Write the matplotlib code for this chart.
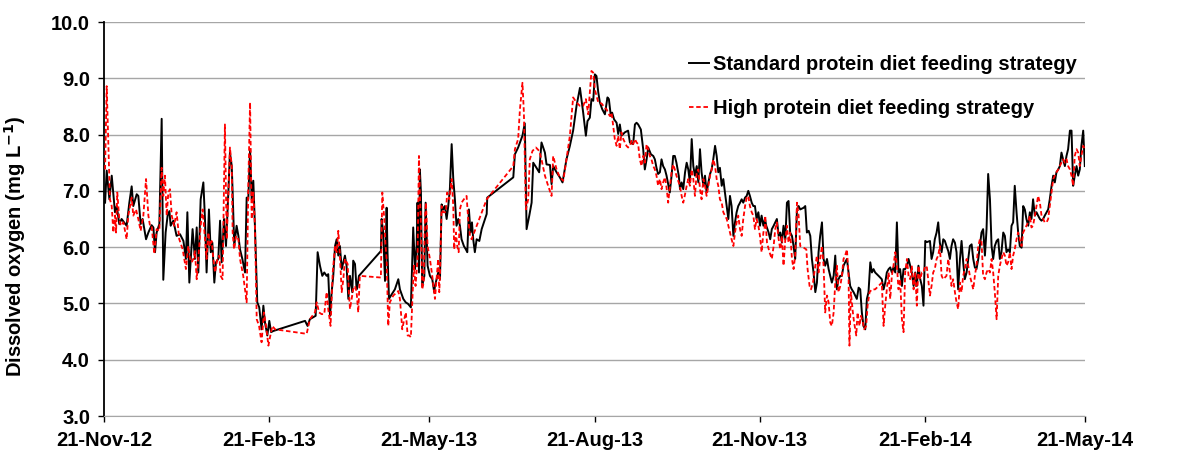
import datetime as dt
import matplotlib
matplotlib.use("Agg")
import matplotlib.pyplot as plt

start = dt.datetime(2012, 11, 21)

# days since 21-Nov-2012, dissolved oxygen (mg/L)
std_days = [0.6, 1.5, 3.0, 4.3, 6.1, 7.1, 8.5, 9.8, 12.6, 14.1, 15.4, 16.3, 18.2, 19.1, 20.4, 21.5, 23.4, 24.7,
            26.5, 27.5, 28.4, 29.3, 30.8, 32.1, 33.0, 34.3, 35.4, 36.4, 37.1, 38.6, 40.4, 42.3,
            44.2, 45.6, 46.4, 47.5, 49.3, 50.6, 51.6, 52.5, 53.8, 55.3, 56.2, 57.1, 58.4, 59.4, 60.3, 61.4, 62.3,
            63.6, 64.6, 65.5, 66.8, 67.9, 69.2, 70.1, 71.1, 71.6, 72.5, 73.8, 74.8, 75.7, 77.0, 78.5, 79.4, 80.3,
            81.3, 82.2, 83.1, 84.0, 85.3, 86.4, 87.7, 88.7, 89.6, 90.9, 92.0,
            93.0, 94.2, 111.9, 113.3, 114.6, 117.8, 118.9, 120.2, 121.5, 122.6, 123.9, 124.8, 125.8, 126.7, 127.6,
            128.6, 129.5, 130.4, 131.3, 132.3, 133.2, 134.1, 135.0, 136.0,
            136.9, 138.2, 138.7, 139.7, 140.6, 141.1, 141.9, 154.1, 154.5, 155.4, 156.4, 157.3, 157.8, 158.6, 159.7,
            161.9, 163.8, 164.7, 166.6, 167.9, 169.3, 170.8, 172.1, 173.1, 174.0, 174.5, 175.3, 175.8, 176.4, 177.1,
            178.3, 179.0, 180.1, 181.4, 182.7, 183.8,
            184.2, 185.1, 186.0, 187.0, 187.9, 188.8, 189.7, 190.7, 191.6, 192.5, 193.5, 194.4, 195.3, 196.2, 197.2,
            198.1, 199.0, 200.3, 201.4, 202.2, 203.1, 204.0, 204.8, 205.5, 206.4, 207.4, 208.9, 210.2, 213.0, 213.3,
            227.8, 228.7,
            230.5, 232.9, 234.2, 235.2, 236.7, 238.0, 238.9, 240.7, 242.2, 243.5, 245.4, 246.3, 248.2, 249.1, 250.0,
            251.9, 253.7, 255.2, 257.4, 259.3, 261.1, 263.0, 264.9, 266.7, 268.2, 269.1, 270.4, 271.3, 272.3, 273.2,
            274.1, 275.1,
            276.0, 277.3, 278.8, 280.2, 281.0, 282.1, 282.8, 283.9, 285.3, 286.2, 287.1, 288.0, 289.0, 289.9, 291.7,
            292.7, 294.5, 295.5, 296.4, 297.3, 298.8, 300.1, 301.0, 302.0, 302.9, 304.4, 305.7, 306.6, 307.5, 308.4,
            309.4, 310.3, 311.2, 312.2, 313.1, 314.0, 314.9, 315.9, 316.8, 317.7, 318.6, 319.9,
            320.6, 321.5, 322.4, 323.4, 324.3, 325.2, 326.1, 327.1, 328.0, 328.9, 329.9, 330.8, 331.7, 332.6, 333.6,
            334.5, 335.4, 336.4, 337.3, 338.2, 339.1, 340.1, 341.0, 341.9, 342.8, 343.8, 344.7, 345.6, 346.6, 347.5,
            348.4, 349.3, 350.3, 351.2, 352.1, 353.0, 354.0, 354.9, 355.8, 356.8, 357.7, 358.6, 359.5, 360.5, 361.4,
            362.3, 363.2, 364.2, 365.1, 366.0, 367.0, 367.9,
            368.6, 369.9, 370.8, 371.7, 372.7, 373.6, 374.5, 375.5, 376.4, 377.3, 378.2, 379.2, 380.1, 381.0, 381.9,
            382.9, 383.8, 384.7, 385.7, 386.6, 387.5, 389.4, 390.3, 391.2, 392.2, 393.1, 394.0, 394.9, 395.9, 396.8,
            397.7, 398.6, 399.6, 400.5, 401.4, 402.4, 403.3, 404.2, 405.1, 406.1, 407.0, 407.9, 408.8, 409.8,
            410.7, 411.6, 412.5, 413.5, 414.4, 415.3, 416.2, 417.2, 418.1, 419.0, 420.0, 420.9, 421.8, 422.7, 423.7,
            424.6, 425.5, 426.5, 427.4, 428.3, 429.2, 431.1, 432.9, 433.9, 434.8, 435.7, 436.7, 437.6, 438.5, 439.4,
            440.4, 441.3, 442.2, 443.1, 444.1, 445.0, 445.9, 446.9, 447.8, 448.7, 449.6, 450.6, 451.5, 452.4, 453.3,
            454.3, 455.2, 456.1, 457.1, 458.0,
            459.7, 460.6, 461.5, 462.4, 463.4, 464.3, 465.2, 466.2, 467.1, 468.0, 468.9, 469.9, 470.8, 471.7, 472.6,
            473.6, 474.5, 475.4, 476.4, 477.3, 478.2, 479.1, 480.1, 481.0, 481.9, 482.9, 483.8, 484.7, 485.6, 486.6,
            487.5, 488.4, 489.3, 490.3, 491.2, 492.1, 493.1, 494.0, 494.9, 495.8, 496.8, 497.7, 498.6, 499.5, 500.5,
            501.4,
            502.3, 503.2, 504.2, 505.1, 506.0, 506.9, 507.9, 508.8, 509.7, 510.7, 511.6, 512.5, 513.4, 514.4, 515.3,
            516.2, 517.1, 518.1, 519.0, 519.9, 520.9, 521.8, 522.7, 523.6, 524.6, 525.5, 526.4, 527.4, 528.3, 529.2,
            530.1, 531.1, 532.0, 532.9, 533.8, 534.8, 535.7, 536.6, 537.6, 538.5, 539.4, 540.3, 541.3, 542.2, 543.1,
            544.0, 545.0, 545.9]
std_vals = [6.79, 7.36, 6.85, 7.27, 6.62, 6.73, 6.41, 6.50, 6.38, 6.79, 7.08, 6.73, 6.94, 6.91, 6.41, 6.50, 6.14, 6.26,
            6.39, 6.35, 5.91, 6.26, 6.41, 8.28, 5.42, 6.26, 6.56, 6.64, 6.38, 6.47, 6.20, 6.23,
            6.11, 5.79, 6.62, 5.37, 6.32, 5.79, 6.35, 5.55, 6.85, 7.15, 6.50, 5.55, 6.67, 5.91, 6.08, 5.37, 5.73,
            5.79, 6.47, 5.73, 6.50, 6.02, 6.97, 7.68, 7.44, 6.97, 6.02, 6.38, 6.20, 5.96, 5.79, 5.55, 6.88, 6.85,
            7.74, 6.85, 7.18, 6.38, 5.02, 4.93, 4.54, 4.96, 4.66, 4.43, 4.69,
            4.49, 4.51, 4.69, 4.60, 4.72, 4.78, 5.91, 5.67, 5.49, 5.55, 5.49, 5.52, 4.78, 5.20, 5.49,
            6.02, 6.14, 5.85, 6.02, 5.61, 5.73, 5.85, 5.67, 5.08,
            5.49, 5.20, 5.76, 5.70, 5.25, 5.31, 5.49, 5.93, 6.50, 6.26, 5.40, 6.70, 5.91, 5.08, 5.14,
            5.25, 5.43, 5.25, 5.08, 5.02, 4.99, 4.93, 6.35, 5.61, 6.02, 6.79, 5.55, 7.38, 6.97, 5.31,
            5.49, 6.79, 5.67, 5.49, 5.43, 5.20,
            5.31, 5.43, 5.55, 5.43, 6.76, 6.67, 6.73, 6.50, 6.73, 7.03, 7.83, 7.21, 6.85, 6.38, 6.50,
            6.38, 6.14, 6.02, 5.96, 5.91, 6.67, 6.26, 6.44, 6.14, 5.91, 6.14, 6.11, 6.32, 6.59, 6.88,
            7.24, 7.65,
            7.77, 7.98, 8.20, 6.32, 6.56, 6.79, 7.50, 7.41, 7.33, 7.86, 7.68, 7.47, 7.46, 7.12, 7.44,
            7.33, 7.24, 7.15, 7.56, 7.80, 8.07, 8.51, 8.83, 8.39, 7.98, 8.24, 8.30, 8.63, 8.60, 9.07,
            9.04, 8.75,
            8.57, 8.45, 8.36, 8.66, 8.63, 8.33, 8.39, 8.27, 8.21, 8.01, 8.18, 7.98, 8.01, 8.04, 8.07,
            7.86, 7.83, 8.18, 8.21, 8.18, 8.09, 7.74, 7.38, 7.56, 7.77, 7.65, 7.62, 7.56, 7.41, 7.30,
            7.33, 7.56, 7.44, 7.38, 7.27, 7.12, 6.97, 7.27, 7.62, 7.62, 7.50, 7.27,
            7.03, 7.15, 7.03, 7.33, 7.50, 7.38, 7.15, 7.92, 7.44, 7.27, 7.44, 7.15, 7.74, 7.33, 7.09,
            7.27, 6.97, 7.15, 7.30, 7.38, 7.56, 7.80, 7.62, 7.33, 7.41, 7.09, 7.21, 6.97, 6.73, 6.50,
            6.91, 6.73, 6.20, 6.44, 6.62, 6.73, 6.79, 6.85, 6.79, 6.88, 6.91, 7.00, 6.91, 6.79, 6.73,
            6.73, 6.50, 6.62, 6.38, 6.56, 6.38, 6.50,
            6.38, 6.26, 6.14, 6.32, 6.38, 6.44, 6.50, 6.20, 6.26, 6.08, 6.38, 6.14, 6.79, 6.82, 6.26,
            6.20, 6.02, 5.79, 6.67, 6.73, 6.67, 6.70, 6.73, 6.26, 6.29, 6.20, 5.79, 5.55, 5.20, 5.37,
            5.91, 6.20, 6.44, 5.79, 5.67, 5.79, 5.61, 5.49, 5.37, 5.49, 5.85, 5.25, 5.43, 5.49,
            5.49, 5.67, 5.73, 5.79, 5.55, 5.31, 5.25, 5.20, 5.14, 5.08, 5.28, 5.25, 4.84, 4.60, 4.54,
            5.08, 5.20, 5.73, 5.55, 5.61, 5.55, 5.49, 5.43, 5.25, 5.37, 5.55, 5.61, 5.64, 5.55, 5.64,
            5.55, 6.44, 5.55, 5.61, 5.31, 5.61, 5.61, 5.67, 5.79, 5.67, 5.55, 5.31, 5.55, 5.31, 5.67,
            5.43, 5.31, 4.96, 6.11, 6.09,
            6.11, 5.79, 5.91, 6.14, 6.26, 6.44, 6.08, 5.91, 6.14, 6.11, 6.02, 5.93, 5.79, 6.02, 6.14,
            6.08, 5.91, 5.25, 5.79, 6.11, 5.73, 5.43, 5.55, 5.79, 6.02, 6.05, 5.79, 5.64, 5.61, 5.79,
            6.02, 6.26, 6.32, 5.85, 6.32, 7.30, 6.85, 6.02, 5.79, 6.02, 6.11, 6.14, 5.79, 5.91, 6.26,
            6.20,
            5.91, 5.96, 5.91, 6.38, 6.44, 7.09, 6.62, 6.26, 6.02, 5.99, 6.73, 6.67, 6.50, 6.38, 6.62,
            6.50, 6.85, 6.56, 6.62, 6.56, 6.50, 6.47, 6.50, 6.56, 6.62, 6.67, 6.85, 7.09, 7.27, 7.15,
            7.33, 7.38, 7.44, 7.68, 7.56, 7.44, 7.62, 7.74, 8.07, 8.07, 7.09, 7.27, 7.44, 7.27, 7.38,
            7.80, 8.07, 7.44]

high_days = [0.6, 1.5, 2.4, 3.3, 4.3, 5.2, 6.1, 6.7, 7.4, 8.5, 9.3, 10.8, 12.6, 13.5, 15.4, 16.3, 17.8, 19.1, 20.4,
             21.9, 23.4, 24.7, 25.6, 26.5, 28.0, 29.3, 30.8, 32.1, 33.0, 33.9, 34.9, 35.8, 36.7, 37.7, 39.0, 40.4,
             41.9,
             43.8, 45.6, 46.9, 47.9, 48.8, 49.7, 50.6, 51.6, 52.5, 53.8, 54.9, 56.2, 57.1, 58.1, 59.0, 59.9, 60.9,
             61.8, 63.1, 64.2, 64.9, 66.0, 67.3, 68.3, 69.2, 70.1, 71.1, 71.6, 72.4, 73.5, 74.8, 75.7, 77.5, 79.4,
             80.3, 81.3, 82.2, 83.1, 84.0, 85.0, 86.3, 87.7, 89.0, 90.2, 91.5, 92.4,
             93.7, 95.2, 112.8, 114.6, 117.4, 118.4, 119.7, 121.1, 122.6, 123.9, 124.8, 126.1, 127.3, 128.6, 129.5,
             130.4, 131.3, 132.3, 133.2, 134.1, 135.6, 136.3,
             136.9, 137.8, 138.7, 139.7, 140.6, 141.5, 142.4, 154.1, 154.9, 156.0, 156.7, 157.3, 158.2, 159.1, 161.0,
             163.8, 164.7, 166.0, 167.1, 168.0, 169.0, 169.9, 170.8, 171.8, 172.5, 173.4, 174.5, 175.3, 175.8, 176.4,
             177.1, 177.9, 178.6, 179.2, 180.1, 181.4, 182.7, 183.8,
             184.2, 185.1, 186.0, 186.6, 187.0, 187.9, 188.8, 190.3, 191.0, 192.2, 193.5, 194.4, 194.9, 195.9, 196.6,
             197.4, 198.1, 199.0, 200.3, 201.8, 202.7, 203.7, 204.6, 213.0, 227.8,
             228.7, 230.5, 231.5, 232.9, 233.7, 234.8, 236.1, 237.0, 238.5, 240.4, 242.2, 243.5, 245.4, 247.2, 249.1,
             250.0, 251.9, 253.7, 255.6, 257.4, 259.3, 261.1, 263.0, 264.9, 266.7, 268.2, 269.5, 271.3, 272.3, 273.2,
             275.1,
             276.0, 277.3, 278.4, 279.7, 280.6, 281.5, 282.5, 283.4, 284.3, 285.3, 286.2, 287.1, 288.0, 289.0, 289.9,
             290.8, 291.7, 292.7, 293.6, 294.5, 295.5, 296.4, 297.3, 298.2, 299.2, 300.1, 301.0, 302.0, 302.9, 303.8,
             304.7, 305.7, 306.6, 307.5, 308.4, 309.4, 310.3, 311.2, 312.2, 313.1, 314.0, 314.9, 315.9, 316.8, 317.7,
             318.6, 320.5,
             321.5, 322.4, 323.4, 324.3, 325.2, 326.1, 327.1, 328.0, 328.9, 329.9, 330.8, 331.7, 332.6, 333.6, 334.5,
             335.4, 336.4, 337.3, 338.2, 339.1, 340.1, 341.0, 341.9, 342.8, 343.8, 344.7, 345.6, 346.6, 347.5, 348.4,
             349.3, 350.3, 351.2, 352.1, 353.0, 354.0, 354.9, 355.8, 356.8, 357.7, 358.6, 359.5, 360.5, 361.4, 362.3,
             363.2, 364.2, 365.1, 366.0, 367.0, 367.9,
             368.0, 369.0, 370.4, 371.7, 372.7, 373.6, 374.5, 375.5, 376.4, 377.3, 378.2, 379.2, 380.1, 381.0, 381.9,
             382.9, 383.8, 384.7, 385.7, 386.6, 387.5, 389.4, 390.9, 391.6, 392.7, 393.5, 394.6, 395.9, 396.8, 397.7,
             398.6, 399.6, 400.5, 401.4, 402.4, 403.3, 404.2, 405.1, 406.1, 407.0, 407.9, 408.8, 409.8,
             410.7, 411.6, 412.5, 413.5, 414.4, 414.9, 415.7, 416.8, 417.5, 418.7, 419.4, 420.5, 421.3, 422.4, 423.1,
             424.2, 425.0, 426.1, 427.4, 429.2, 431.1, 432.9, 433.9, 434.8, 435.7, 436.7, 437.6, 438.5, 439.4, 440.4,
             441.3, 442.2, 443.1, 444.1, 445.0, 445.9, 446.9, 447.8, 448.7, 449.6, 450.6, 451.5, 452.4, 453.3, 454.3,
             455.2, 456.1, 457.1, 458.0,
             459.7, 460.6, 461.5, 462.4, 463.4, 464.3, 465.2, 466.2, 467.1, 468.0, 468.9, 469.9, 470.8, 471.7, 472.6,
             473.6, 474.5, 475.4, 476.4, 477.3, 478.2, 479.1, 480.1, 481.0, 481.9, 482.9, 483.8, 484.7, 485.6, 486.6,
             487.5, 488.4, 489.3, 490.3, 491.2, 492.1, 493.1, 494.0, 494.9, 495.8, 496.8, 497.7, 498.6, 499.5, 500.5,
             501.4,
             502.3, 503.2, 504.2, 505.1, 506.0, 506.9, 507.9, 508.8, 509.7, 510.7, 511.6, 512.5, 513.4, 514.4, 515.3,
             516.2, 517.1, 518.1, 519.0, 519.9, 520.9, 521.8, 522.7, 523.6, 524.6, 525.5, 526.4, 527.4, 528.3, 529.2,
             530.1, 531.1, 532.0, 532.9, 533.8, 534.8, 535.7, 536.6, 537.6, 538.5, 539.4, 540.3, 541.3, 542.2, 543.1,
             544.0, 545.0, 545.9]
high_vals = [7.38, 8.86, 7.86, 6.85, 6.73, 6.26, 6.56, 6.26, 6.97, 6.50, 6.38, 6.44, 6.14, 6.56, 6.88, 6.56, 6.67, 6.50,
             6.29, 6.56, 7.21, 6.56, 6.38, 6.38, 5.88, 6.32, 6.29, 7.41, 6.91, 7.27, 6.56, 6.97, 7.03, 6.56, 6.38,
             6.62, 6.14,
             5.96, 5.61, 6.02, 5.79, 5.73, 5.79, 5.93, 5.43, 5.79, 6.38, 6.67, 6.14, 5.79, 6.26, 6.02, 6.11, 5.79,
             5.55, 5.79, 5.85, 5.49, 5.43, 8.18, 6.14, 6.91, 7.77, 7.44, 6.26, 5.96, 6.20, 6.14, 5.79, 5.49, 5.02,
             7.09, 8.57, 6.50, 6.97, 6.38, 4.72, 4.60, 4.31, 4.84, 4.60, 4.25, 4.40,
             4.60, 4.54, 4.46, 4.72, 4.84, 5.02, 4.84, 4.81, 4.81, 5.20, 4.90, 4.60, 5.55, 6.02, 5.91,
             6.29, 5.85, 5.20, 5.43, 5.79, 5.70, 5.20,
             4.90, 5.08, 5.25, 5.31, 5.20, 4.84, 5.49, 5.46, 6.97, 6.50, 6.02, 5.79, 4.60, 5.02, 5.14,
             5.22, 5.08, 4.54, 4.72, 4.84, 4.43, 4.43, 4.40, 5.20, 5.67, 5.31, 5.79, 7.62, 6.97, 6.38,
             5.25, 5.37, 6.50, 6.79, 6.02, 5.79, 5.49, 5.20,
             5.08, 5.43, 5.79, 5.20, 5.49, 6.73, 6.62, 6.62, 6.97, 6.85, 7.21, 6.73, 5.96, 6.26, 6.02,
             5.91, 6.67, 6.79, 6.85, 6.91, 6.50, 6.20, 6.14, 6.85, 7.44,
             7.74, 7.92, 8.45, 8.92, 8.39, 6.67, 6.85, 7.56, 7.71, 7.77, 7.71, 7.56, 7.27, 7.09, 6.91,
             7.62, 7.38, 7.24, 7.18, 7.56, 7.98, 8.66, 8.57, 8.51, 8.51, 8.63, 8.36, 9.13, 9.10, 8.80,
             8.57,
             8.57, 8.54, 8.48, 8.45, 8.39, 8.33, 8.39, 8.15, 7.92, 7.80, 7.98, 7.74, 8.04, 7.92, 7.86,
             7.80, 7.77, 7.80, 7.89, 7.83, 7.92, 7.86, 7.83, 7.56, 7.44, 7.62, 7.50, 7.83, 7.74, 7.62,
             7.56, 7.44, 7.38, 7.27, 7.09, 7.21, 7.03, 7.15, 7.24, 7.06, 6.79, 7.06, 7.33, 7.47, 7.38,
             7.27, 7.09,
             6.91, 6.79, 6.94, 7.09, 7.21, 7.09, 7.38, 7.21, 6.91, 7.33, 7.38, 7.03, 6.85, 7.21, 7.09,
             6.91, 7.09, 7.27, 7.38, 7.56, 7.44, 7.21, 7.09, 6.85, 6.79, 6.62, 6.56, 6.50, 6.38, 6.26,
             6.14, 6.02, 6.26, 6.44, 6.56, 6.32, 6.20, 6.50, 6.73, 6.88, 6.91, 6.73, 6.62, 6.56, 6.32,
             6.50, 6.38, 6.20, 5.91, 6.26, 6.38,
             6.56, 6.08, 5.91, 5.79, 6.02, 6.32, 6.44, 6.14, 5.96, 6.20, 5.67, 6.14, 6.38, 6.08, 6.26,
             5.79, 5.61, 5.85, 6.79, 6.56, 6.02, 5.99, 5.96, 5.61, 5.31, 5.25, 5.37, 5.67, 5.85, 5.55,
             5.79, 6.02, 5.67, 4.84, 5.14, 5.02, 4.66, 4.60, 4.84, 5.37, 5.67, 5.20, 5.31,
             5.49, 5.79, 5.85, 5.96, 5.49, 4.25, 5.20, 4.84, 4.66, 4.43, 4.84, 4.60, 4.78, 4.66, 4.54,
             4.60, 4.96, 5.20, 5.25, 5.25, 5.31, 5.37, 4.60, 4.96, 5.25, 5.55, 5.08, 5.49, 5.67, 5.91,
             5.67, 5.25, 5.43, 4.72, 4.49, 5.55, 5.79, 5.49, 5.43, 5.67, 5.25, 5.55, 4.96, 5.67, 5.43,
             5.55, 5.55, 5.67, 5.64,
             5.14, 5.31, 5.55, 5.61, 5.79, 5.85, 6.02, 5.49, 5.43, 5.46, 5.49, 5.79, 5.55, 5.31, 5.43,
             5.20, 5.02, 4.90, 5.37, 5.20, 5.49, 5.61, 5.79, 5.67, 5.49, 5.37, 5.25, 5.49, 5.67, 6.02,
             6.14, 6.11, 5.49, 5.43, 5.55, 5.61, 5.55, 5.79, 5.55, 5.20, 4.72, 5.49, 5.67, 5.79, 5.91,
             5.85,
             5.67, 5.73, 5.91, 5.61, 5.85, 5.96, 6.14, 6.26, 6.14, 6.02, 6.26, 6.32, 6.38, 6.44, 6.56,
             6.35, 6.38, 6.56, 6.73, 6.91, 6.79, 6.56, 6.50, 6.44, 6.44, 6.50, 6.73, 6.97, 7.21, 7.27,
             7.33, 7.38, 7.44, 7.50, 7.56, 7.50, 7.56, 7.44, 7.38, 7.27, 7.09, 7.62, 7.74, 7.68, 7.44,
             7.62, 7.80, 7.74]

tick_labels = ["21-Nov-12", "21-Feb-13", "21-May-13", "21-Aug-13", "21-Nov-13", "21-Feb-14", "21-May-14"]
series_labels = ["Standard protein diet feeding strategy", "High protein diet feeding strategy"]

plt.rcParams['font.family'] = ['Liberation Sans', 'DejaVu Sans']
FS = 14.5

fig = plt.figure(figsize=(11.95, 4.54), dpi=100)
ax = fig.add_axes([104 / 1195, 1 - 416 / 454, 981 / 1195, 394 / 454])

sd = [start + dt.timedelta(days=d) for d in std_days]
hd = [start + dt.timedelta(days=d) for d in high_days]
ax.plot(sd, std_vals, color='black', lw=1.4, label=series_labels[0], zorder=3)
ax.plot(hd, high_vals, color='#ff0000', lw=1.3, ls=(0, (2.5, 1.5)), label=series_labels[1], zorder=4)

tick_dates = [dt.datetime.strptime(t, "%d-%b-%y") for t in tick_labels]
ax.set_xlim(tick_dates[0], tick_dates[-1])
ax.set_xticks(tick_dates)
ax.set_xticklabels(tick_labels, fontsize=FS, fontweight='bold')
ax.set_ylim(3.0, 10.0)
yt = [3.0 + i for i in range(8)]
ax.set_yticks(yt)
ax.set_yticklabels([f"{v:.1f}" for v in yt], fontsize=FS, fontweight='bold')
ax.yaxis.grid(True, color='#a6a6a6', lw=1.0)
ax.set_axisbelow(True)
ax.tick_params(axis='both', length=4, width=1, direction='out')
ax.tick_params(axis='x', pad=7)
ax.tick_params(axis='y', pad=6)

for s in ['top', 'right']:
    ax.spines[s].set_visible(False)
ax.spines['bottom'].set_color('#a6a6a6')
ax.spines['left'].set_color('black')
ax.spines['left'].set_linewidth(1.3)

ax.set_ylabel("Dissolved oxygen (mg L$^{\\mathbf{-1}}$)", fontsize=FS, fontweight='bold')
ax.yaxis.set_label_coords(-0.0775, 0.43)

leg = ax.legend(loc='upper left', bbox_to_anchor=(0.578, 0.962), frameon=False,
                prop={'weight': 'bold', 'size': FS}, handlelength=1.0, handletextpad=0.2,
                labelspacing=1.25)

fig.savefig("out.png", dpi=100)
